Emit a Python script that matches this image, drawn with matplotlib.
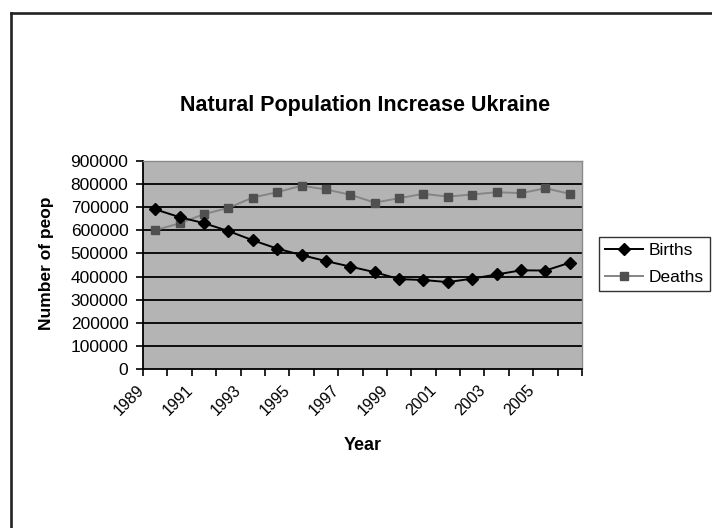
import matplotlib
matplotlib.use("Agg")
import matplotlib.pyplot as plt
from matplotlib.lines import Line2D
from matplotlib.transforms import ScaledTranslation

years = list(range(1989, 2007))
births = [691000, 657000, 631000, 597000, 557000, 521000, 493000, 467000, 443000,
          419000, 389000, 385000, 376000, 391000, 409000, 427000, 426000, 460000]
deaths = [601000, 630000, 670000, 697000, 742000, 765000, 793000, 777000, 754000,
          720000, 739000, 758000, 746000, 755000, 765000, 761000, 782000, 758000]
yticks = list(range(0, 900001, 100000))

plt.rcParams["font.family"] = ["Liberation Sans", "DejaVu Sans"]

fig = plt.figure(figsize=(7.12, 5.28), dpi=100)
ax = fig.add_axes([143 / 712, 1 - 369 / 528, 439 / 712, 208 / 528])
ax.set_facecolor("#b4b4b4")

xs = range(len(years))
ax.plot(xs, births, color="black", lw=1.4, marker="D", ms=6.3,
        mfc="black", mec="black", label="Births", zorder=4)
ax.plot(xs, deaths, color="#858585", lw=1.4, marker="s", ms=6.0,
        mfc="#505050", mec="#505050", label="Deaths", zorder=3)

ax.set_xlim(-0.5, len(years) - 0.5)
ax.set_ylim(0, 900000)
ax.set_yticks(yticks)
ax.set_yticklabels([str(v) for v in yticks], fontsize=12.5)
for v in yticks[1:]:
    ax.axhline(v, color="black", lw=1.3, zorder=1)

# category labels on every other year, tick marks on category boundaries
ax.set_xticks(list(xs)[::2])
ax.set_xticklabels([str(y) for y in years[::2]], rotation=45, ha="right",
                   va="top", rotation_mode="anchor", fontsize=11.5)
ax.set_xticks([i - 0.5 for i in range(len(years) + 1)], minor=True)
ax.tick_params(axis="x", which="major", length=0, pad=6)
ax.tick_params(axis="x", which="minor", length=5, width=1.2, direction="out")
ax.tick_params(axis="y", length=5, width=1.2, direction="out", pad=5.5)

# nudge the slanted year labels so they end left of the category centre
shift = ScaledTranslation(-19 / 100, -5 / 100, fig.dpi_scale_trans)
for t in ax.xaxis.get_major_ticks():
    t.label1.set_transform(t.label1.get_transform() + shift)

for s in ["left", "bottom"]:
    ax.spines[s].set_color("black")
    ax.spines[s].set_linewidth(1.3)
for s in ["top", "right"]:
    ax.spines[s].set_color("#8a8a8a")
    ax.spines[s].set_linewidth(1.0)

ax.set_xlabel("Year", fontsize=13, fontweight="bold", va="center")
ax.xaxis.set_label_coords(220 / 439, -76 / 208)
fig.text(47 / 712, 1 - 263 / 528, "Number of peop", rotation=90,
         ha="center", va="center", fontsize=12.5, fontweight="bold")
fig.text(365 / 712, 1 - 106 / 528, "Natural Population Increase Ukraine",
         ha="center", va="center", fontsize=15.5, fontweight="bold")

leg = ax.legend(loc="center left", bbox_to_anchor=(599 / 712, 1 - 264 / 528),
                bbox_transform=fig.transFigure, fontsize=12.5, frameon=True,
                fancybox=False, edgecolor="black", handlelength=2.2,
                handletextpad=0.3, borderpad=0.35, labelspacing=0.7,
                borderaxespad=0)
leg.get_frame().set_linewidth(1.0)

# outer frame along the top and left edges
fig.add_artist(Line2D([10.5 / 712, 1], [1 - 12.5 / 528] * 2, color="#222222",
                      lw=1.9, transform=fig.transFigure))
fig.add_artist(Line2D([10.5 / 712] * 2, [0, 1 - 12.5 / 528], color="#222222",
                      lw=1.9, transform=fig.transFigure))

fig.savefig("out.png", dpi=100)
